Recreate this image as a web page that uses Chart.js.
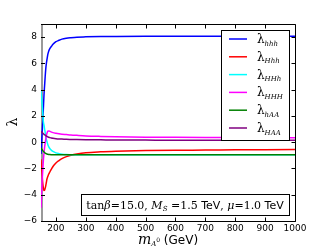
<!DOCTYPE html>
<html>
<head>
<meta charset="utf-8">
<script src="https://cdn.jsdelivr.net/npm/chart.js@4.4.0/dist/chart.umd.min.js"></script>
<style>html,body{margin:0;padding:0;background:#fff;}</style>
</head>
<body>
<canvas id="myChart" width="328" height="246"></canvas>
<script>
// m_A0 grid (GeV)
var mA = [150,152,154,156,158,160,162,164,166,168,170,173,176,180,185,190,200,210,220,235,250,270,300,350,400,500,600,700,800,900,1000];

var lam_hhh = [-0.9,0.0,0.8,1.6,2.6,3.6,4.3,5.0,5.6,6.0,6.3,6.7,6.95,7.15,7.3,7.45,7.65,7.76,7.85,7.92,7.96,8.0,8.02,8.04,8.05,8.06,8.06,8.06,8.06,8.06,8.06];
var lam_Hhh = [-1.3,-1.9,-2.6,-3.15,-3.5,-3.68,-3.65,-3.5,-3.3,-3.05,-2.8,-2.6,-2.42,-2.25,-2.05,-1.85,-1.58,-1.4,-1.25,-1.1,-1.0,-0.9,-0.8,-0.73,-0.69,-0.64,-0.61,-0.6,-0.58,-0.57,-0.56];
var lam_HHh = [3.9,3.4,2.8,2.15,1.55,1.3,1.0,0.75,0.45,0.22,0.05,-0.2,-0.36,-0.5,-0.62,-0.7,-0.81,-0.87,-0.91,-0.94,-0.95,-0.96,-0.96,-0.96,-0.96,-0.96,-0.96,-0.96,-0.96,-0.96,-0.96];
var lam_HHH = [-5.0,-3.9,-2.9,-2.1,-1.35,-0.85,-0.4,-0.05,0.25,0.5,0.68,0.84,0.86,0.82,0.77,0.73,0.68,0.64,0.61,0.58,0.55,0.52,0.48,0.44,0.41,0.38,0.37,0.36,0.35,0.35,0.34];
var lam_hAA = [-0.45,-0.52,-0.58,-0.64,-0.7,-0.75,-0.79,-0.83,-0.86,-0.88,-0.9,-0.92,-0.93,-0.94,-0.95,-0.96,-0.96,-0.96,-0.96,-0.96,-0.96,-0.96,-0.96,-0.96,-0.96,-0.96,-0.96,-0.96,-0.96,-0.96,-0.96];
var lam_HAA = [0.82,0.78,0.74,0.69,0.64,0.6,0.57,0.54,0.5,0.47,0.44,0.41,0.38,0.35,0.32,0.3,0.27,0.25,0.24,0.22,0.21,0.2,0.19,0.18,0.17,0.16,0.15,0.15,0.14,0.14,0.14];

var subs = ['hhh','Hhh','HHh','HHH','hAA','HAA'];
var series = [lam_hhh, lam_Hhh, lam_HHh, lam_HHH, lam_hAA, lam_HAA];
var colors = ['#0000ff','#ff0000','#00ffff','#ff00ff','#008000','#800080'];

var xTicks = [200,300,400,500,600,700,800,900,1000];
var yTicks = [-6,-4,-2,0,2,4,6,8];

function pts(vals) {
  return mA.map(function (m, i) { return {x: m, y: vals[i]}; });
}

// later series on top, like the original plot
var datasets = series.map(function (s, i) {
  return {
    label: subs[i],
    data: pts(s),
    borderColor: colors[i],
    borderWidth: 1.5,
    pointRadius: 0,
    fill: false,
    order: series.length - i,
    cubicInterpolationMode: 'monotone'
  };
});

var serif = '"DejaVu Serif", serif';
var sans = '"DejaVu Sans", sans-serif';

// draw a list of text runs one after another
function drawRuns(ctx, runs, x, y, align) {
  var tw = 0;
  runs.forEach(function (r) { ctx.font = r.f; tw += ctx.measureText(r.t).width; });
  var sx = align === 'center' ? x - tw / 2 : x;
  runs.forEach(function (r) {
    ctx.font = r.f;
    ctx.fillText(r.t, sx, y + (r.dy || 0));
    sx += ctx.measureText(r.t).width;
  });
}

var frame = {
  id: 'frame',
  beforeDatasetsDraw: function (chart) {
    var ctx = chart.ctx, a = chart.chartArea;
    ctx.save();
    ctx.fillStyle = '#999';
    ctx.fillRect(Math.round(a.left), Math.round(a.top), 2, Math.round(a.bottom - a.top) + 1);
    ctx.restore();
  },
  afterDatasetsDraw: function (chart) {
    var ctx = chart.ctx, a = chart.chartArea;
    var xs = chart.scales.x, ys = chart.scales.y;
    var L = Math.round(a.left), R = Math.round(a.right) + 0.5;
    var T = Math.round(a.top) + 0.5, B = Math.round(a.bottom) + 0.5;
    ctx.save();
    ctx.strokeStyle = '#000';
    ctx.lineWidth = 1;
    ctx.beginPath();
    xTicks.forEach(function (v) {
      var px = Math.round(xs.getPixelForValue(v)) + 0.5;
      ctx.moveTo(px, B); ctx.lineTo(px, B - 4);
      ctx.moveTo(px, T); ctx.lineTo(px, T + 4);
    });
    yTicks.forEach(function (v) {
      var py = Math.round(ys.getPixelForValue(v)) + 0.5;
      ctx.moveTo(L, py); ctx.lineTo(L + 4, py);
      ctx.moveTo(R, py); ctx.lineTo(R - 4, py);
    });
    // top, right, bottom spines
    ctx.moveTo(L, T); ctx.lineTo(R, T); ctx.lineTo(R, B); ctx.lineTo(L, B);
    ctx.stroke();

    // legend
    ctx.fillStyle = '#fff';
    ctx.fillRect(221, 30, 68, 110);
    ctx.strokeStyle = '#000';
    ctx.strokeRect(221.5, 30.5, 68, 110);
    ctx.textBaseline = 'alphabetic';
    ctx.textAlign = 'left';
    subs.forEach(function (s, i) {
      var yy = 39 + i * 17.8;
      ctx.strokeStyle = colors[i];
      ctx.lineWidth = 1.5;
      ctx.beginPath();
      ctx.moveTo(229, yy); ctx.lineTo(247, yy);
      ctx.stroke();
      ctx.fillStyle = '#000';
      drawRuns(ctx, [
        {t: '\u03bb', f: '12px ' + serif},
        {t: s, f: 'italic 7px ' + serif, dy: 2.5}
      ], 257, yy + 4, 'left');
    });

    // annotation box
    ctx.fillStyle = '#fff';
    ctx.fillRect(81, 194, 208, 21);
    ctx.strokeStyle = '#000';
    ctx.lineWidth = 1;
    ctx.strokeRect(81.5, 194.5, 208, 21);
    ctx.fillStyle = '#000';
    drawRuns(ctx, [
      {t: 'tan', f: '11px ' + serif},
      {t: '\u03b2', f: 'italic 11px ' + serif},
      {t: '=15.0, ', f: '11px ' + serif},
      {t: 'M', f: 'italic 11px ' + serif},
      {t: 'S', f: 'italic 7px ' + serif, dy: 2},
      {t: ' =1.5 ', f: '11px ' + serif},
      {t: 'TeV', f: '11px ' + sans},
      {t: ', ', f: '11px ' + serif},
      {t: '\u03bc', f: 'italic 11px ' + serif},
      {t: '=1.0 ', f: '11px ' + serif},
      {t: 'TeV', f: '11px ' + sans}
    ], 185, 209, 'center');
    ctx.restore();
  },
  afterDraw: function (chart) {
    var ctx = chart.ctx;
    ctx.save();
    ctx.fillStyle = '#000';
    ctx.textBaseline = 'alphabetic';
    drawRuns(ctx, [
      {t: 'm', f: 'italic 14px ' + serif},
      {t: 'A', f: 'italic 7px ' + serif, dy: 2},
      {t: '0', f: '6px ' + serif, dy: -2},
      {t: ' (GeV)', f: '12px ' + sans}
    ], 168, 244, 'center');
    ctx.translate(17, 122);
    ctx.rotate(-Math.PI / 2);
    ctx.textAlign = 'center';
    ctx.font = '14px ' + serif;
    ctx.fillText('\u03bb', 0, 0);
    ctx.restore();
  }
};

var ctx = document.getElementById('myChart').getContext('2d');
var myChart = new Chart(ctx, {
  type: 'line',
  data: { datasets: datasets },
  options: {
    responsive: false,
    devicePixelRatio: 1,
    animation: false,
    events: [],
    layout: { padding: { top: 24, right: 33, left: 0, bottom: 0 } },
    plugins: { legend: { display: false }, tooltip: { enabled: false } },
    scales: {
      x: {
        type: 'linear',
        min: 150, max: 1000,
        grid: { display: false, drawTicks: false },
        border: { display: false },
        afterBuildTicks: function (s) { s.ticks = xTicks.map(function (v) { return {value: v}; }); },
        afterFit: function (s) { s.height = 25; },
        ticks: {
          padding: 2, color: '#000', font: { family: 'DejaVu Sans', size: 9 }, maxRotation: 0, autoSkip: false,
          callback: function (v) { return '' + v; }
        }
      },
      y: {
        min: -6, max: 9,
        grid: { display: false, drawTicks: false },
        border: { display: false },
        afterBuildTicks: function (s) { s.ticks = yTicks.map(function (v) { return {value: v}; }); },
        afterFit: function (s) { s.width = 41; },
        ticks: {
          padding: 4, color: '#000', font: { family: 'DejaVu Sans', size: 9 },
          callback: function (v) { return v < 0 ? '\u2212' + (-v) : '' + v; }
        }
      }
    }
  },
  plugins: [frame]
});
</script>
</body>
</html>
